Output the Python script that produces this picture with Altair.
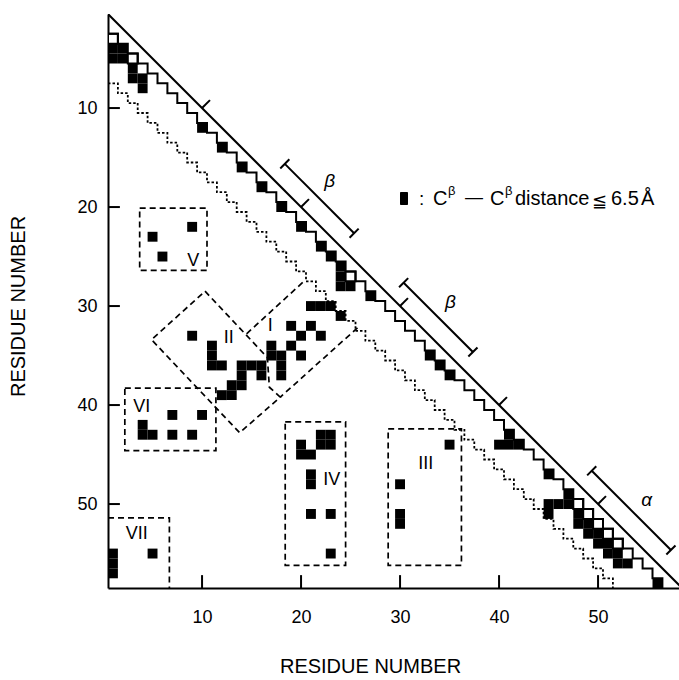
import altair as alt
import pandas as pd

# ---------------------------------------------------------------- data
N_RES = 58
TICKS = [10, 20, 30, 40, 50]

# contacts as (i, j): i = residue on the horizontal axis, j = residue on the vertical axis
near_diag = [(1, 4), (2, 4), (1, 5), (2, 5), (3, 6), (3, 7), (4, 7), (4, 8),
             (10, 12), (12, 14), (14, 16), (16, 18), (18, 20), (20, 22), (22, 24), (23, 25),
             (24, 26), (24, 27), (24, 28), (25, 28), (27, 29),
             (33, 35), (34, 36), (35, 37), (41, 43), (40, 44), (41, 44), (42, 44),
             (45, 47), (47, 49), (45, 50), (46, 50), (47, 50), (45, 51),
             (48, 51), (48, 52), (49, 52), (49, 53), (50, 53), (50, 54), (51, 54),
             (51, 55), (52, 55), (52, 56), (53, 56), (56, 58)]
near_diag_open = [(1, 3), (3, 5), (25, 27), (48, 50), (49, 51), (50, 52), (51, 53), (52, 54)]
region_I = [(21, 30), (22, 30), (23, 30), (24, 31), (19, 32), (21, 32), (20, 33), (22, 33),
            (17, 34), (19, 34), (17, 35), (18, 35), (20, 35), (18, 36), (18, 37)]
region_II = [(9, 33), (11, 34), (11, 35), (11, 36), (12, 36), (14, 36), (15, 36), (16, 36),
             (14, 37), (16, 37), (13, 38), (14, 38), (12, 39), (13, 39)]
region_III = [(35, 44), (30, 48), (30, 51), (30, 52)]
region_IV = [(22, 43), (23, 43), (20, 44), (22, 44), (23, 44), (20, 45), (21, 45),
             (21, 47), (21, 48), (21, 51), (23, 51), (23, 55)]
region_V = [(9, 22), (5, 23), (6, 25)]
region_VI = [(7, 41), (10, 41), (4, 42), (4, 43), (5, 43), (7, 43), (9, 43)]
region_VII = [(1, 55), (1, 56), (1, 57), (5, 55)]

# dashed outlines of the contact regions (residue coordinates)
rect_regions = {"V": (3.7, 10.5, 20.1, 26.4), "VI": (2.2, 11.4, 38.3, 44.6),
                "IV": (18.4, 24.5, 41.7, 56.2), "III": (28.8, 36.2, 42.4, 56.2)}
outline_VII = [(0.5, 51.4), (6.7, 51.4), (6.7, 58.5)]
outline_II = [(10.3, 28.5), (16.6, 35.2), (16.8, 38.2), (17.9, 39.2), (13.8, 42.8),
              (4.9, 33.4), (10.3, 28.5)]
outline_I_upper = [(14.5, 32.8), (20.4, 27.4)]
outline_I_lower = [(25.7, 32.2), (17.9, 39.2)]

region_labels = ["I", "II", "III", "IV", "V", "VI", "VII"]
label_x = [16.9, 12.7, 32.6, 23.1, 9.1, 3.9, 3.4]
label_y = [32.0, 33.2, 46.0, 47.6, 25.4, 40.2, 53.0]

# secondary structure along the diagonal
ss_names = ["β", "β", "α"]
ss_start = [17, 29, 48]
ss_end = [24, 36, 56]
ss_label_x = [22.9, 35.1, 54.9]
ss_label_y = [17.4, 29.6, 49.6]

# band half-widths of the two staircases |i - j| <= m
BAND_SOLID = 1
BAND_DOTTED = 6

# ---------------------------------------------------------------- tables
cells = []
for lst, kind in [(near_diag, "black"), (near_diag_open, "open"), (region_I, "black"),
                  (region_II, "black"), (region_III, "black"), (region_IV, "black"),
                  (region_V, "black"), (region_VI, "black"), (region_VII, "black")]:
    for i, j in lst:
        cells.append({"i": i, "j": j, "kind": kind,
                      "x": i - 0.5, "x2": i + 0.5, "y": j - 0.5, "y2": j + 0.5})
cells = pd.DataFrame(cells)
black = cells[cells.kind == "black"]
opened = cells[cells.kind == "open"]


def staircase(m):
    pts = [(0.5, m + 1.5)]
    k = 1
    while True:
        pts.append((k + 0.5, k + m + 0.5))
        pts.append((k + 0.5, k + m + 1.5))
        if k + m + 1.5 >= N_RES + 0.5:
            break
        k += 1
    return pd.DataFrame([{"o": n, "x": x, "y": y} for n, (x, y) in enumerate(pts)])


outlines = []
for name, (a, b, c, d) in rect_regions.items():
    for n, (x, y) in enumerate([(a, c), (b, c), (b, d), (a, d), (a, c)]):
        outlines.append({"g": name, "o": n, "x": x, "y": y})
for name, pts in [("VII", outline_VII), ("II", outline_II),
                  ("Iu", outline_I_upper), ("Il", outline_I_lower)]:
    for n, (x, y) in enumerate(pts):
        outlines.append({"g": name, "o": n, "x": x, "y": y})
outlines = pd.DataFrame(outlines)

OFF = 1.36   # distance of the bars from the diagonal
CAP = 0.46
ss_rows, cap_rows = [], []
for s, e in zip(ss_start, ss_end):
    ss_rows.append({"x": s + OFF, "y": s - OFF, "x2": e + OFF, "y2": e - OFF})
    for t in (s, e):
        cap_rows.append({"x": t + OFF - CAP, "y": t - OFF + CAP,
                         "x2": t + OFF + CAP, "y2": t - OFF - CAP})
ss_bars = pd.DataFrame(ss_rows + cap_rows)
diag_ticks = pd.DataFrame([{"x": t, "y": t, "x2": t + 0.8, "y2": t - 0.8} for t in TICKS])

# ---------------------------------------------------------------- scales and axes
W, H = 571, 574
X_MAX = 0.5 + W / 9.9
Y_MAX = 0.5 + H / 9.9
xs = alt.Scale(domain=[0.5, X_MAX], nice=False, zero=False)
ys = alt.Scale(domain=[0.5, Y_MAX], reverse=True, nice=False, zero=False)
FONT = "Liberation Sans"

xaxis = alt.Axis(values=TICKS, title="RESIDUE NUMBER", tickSize=0, labelPadding=20,
                 labelFontSize=18, labelFont=FONT, labelColor="black", grid=False,
                 domainColor="black", domainWidth=2, titleFont=FONT, titleFontSize=20,
                 titleFontWeight="normal", titleColor="black", titleX=262, titleY=84,
                 titleAlign="center", titleBaseline="alphabetic")
yaxis = alt.Axis(values=TICKS, title="RESIDUE NUMBER", tickSize=0, labelPadding=11,
                 labelFontSize=18, labelFont=FONT, labelColor="black", grid=False,
                 domainColor="black", domainWidth=2, titleFont=FONT, titleFontSize=20,
                 titleFontWeight="normal", titleColor="black", titleX=-84, titleY=292,
                 titleAlign="center", titleBaseline="alphabetic", titleAngle=-90)


def X(field="x"):
    return alt.X(f"{field}:Q", scale=xs, axis=xaxis)


def Y(field="y"):
    return alt.Y(f"{field}:Q", scale=ys, axis=yaxis)


cell_layer = alt.Chart(black).mark_rect(color="black", clip=True).encode(
    x=X(), x2="x2:Q", y=Y(), y2="y2:Q")
open_layer = alt.Chart(opened).mark_rect(fill="white", stroke="black", strokeWidth=2,
                                         clip=True).encode(
    x=X(), x2="x2:Q", y=Y(), y2="y2:Q")


def path(df, **style):
    enc = dict(x=X(), y=Y(), order="o:Q")
    if "g" in df.columns:
        enc["detail"] = "g:N"
    return alt.Chart(df).mark_line(color="black", clip=True, **style).encode(**enc)


solid_stairs = path(staircase(BAND_SOLID), strokeWidth=2)
dotted_stairs = path(staircase(BAND_DOTTED), strokeWidth=1.8, strokeDash=[2.5, 2])
boxes = path(outlines, strokeWidth=1.7, strokeDash=[6, 4])
diagonal = path(pd.DataFrame({"o": [0, 1], "x": [0.5, N_RES + 0.5],
                              "y": [0.5, N_RES + 0.5]}), strokeWidth=2)


def segments(df, width):
    return alt.Chart(df).mark_rule(color="black", strokeWidth=width, clip=True).encode(
        x=X(), x2="x2:Q", y=Y(), y2="y2:Q")


bars = segments(ss_bars, 2)
dticks = segments(diag_ticks, 2)
axis_ticks = segments(pd.DataFrame(
    [{"x": t, "x2": t, "y": Y_MAX, "y2": Y_MAX - 1.3} for t in TICKS] +
    [{"x": 0.5, "x2": 1.7, "y": t, "y2": t} for t in TICKS]), 2)

labels = alt.Chart(pd.DataFrame({"t": region_labels, "x": label_x, "y": label_y})).mark_text(
    font=FONT, fontSize=18, color="black").encode(x=X(), y=Y(), text="t:N")
ss_text = alt.Chart(pd.DataFrame({"t": ss_names, "x": ss_label_x, "y": ss_label_y})).mark_text(
    font=FONT, fontSize=19, fontStyle="italic", color="black").encode(x=X(), y=Y(), text="t:N")

# legend line: "■ : Cβ — Cβ distance ≦ 6.5 Å", placed in pixels inside the plot area
leg = pd.DataFrame({
    "t": [":", "C", "β", "—", "C", "β", "distance", "≦", "6.5", "Å"],
    "px": [311, 325, 340, 357, 382, 397, 407, 484, 503, 533],
    "py": [191, 191, 181, 189, 191, 181, 191, 193, 191, 191],
    "fs": [19, 20, 13, 18, 20, 13, 20, 18, 20, 20]})
legend_text = alt.Chart(leg).mark_text(font=FONT, color="black", align="left",
                                       baseline="alphabetic").encode(
    x=alt.X("px:Q", scale=None), y=alt.Y("py:Q", scale=None), text="t:N",
    size=alt.Size("fs:Q", scale=None, legend=None))
legend_box = alt.Chart(pd.DataFrame({"a": [292], "b": [300], "c": [178], "d": [191]})).mark_rect(
    color="black", cornerRadius=1).encode(
    x=alt.X("a:Q", scale=None), x2="b:Q", y=alt.Y("c:Q", scale=None), y2="d:Q")

chart = alt.layer(cell_layer, open_layer, solid_stairs, dotted_stairs, boxes, diagonal,
                  bars, dticks, axis_ticks, labels, ss_text, legend_text, legend_box
                  ).properties(
    width=W, height=H, autosize=alt.AutoSizeParams(type="none"),
    padding={"left": 108, "top": 14, "right": 0, "bottom": 92},
    background="white"
).configure_view(stroke=None)

chart.save("out.html", embed_options={"renderer": "svg", "actions": False})
